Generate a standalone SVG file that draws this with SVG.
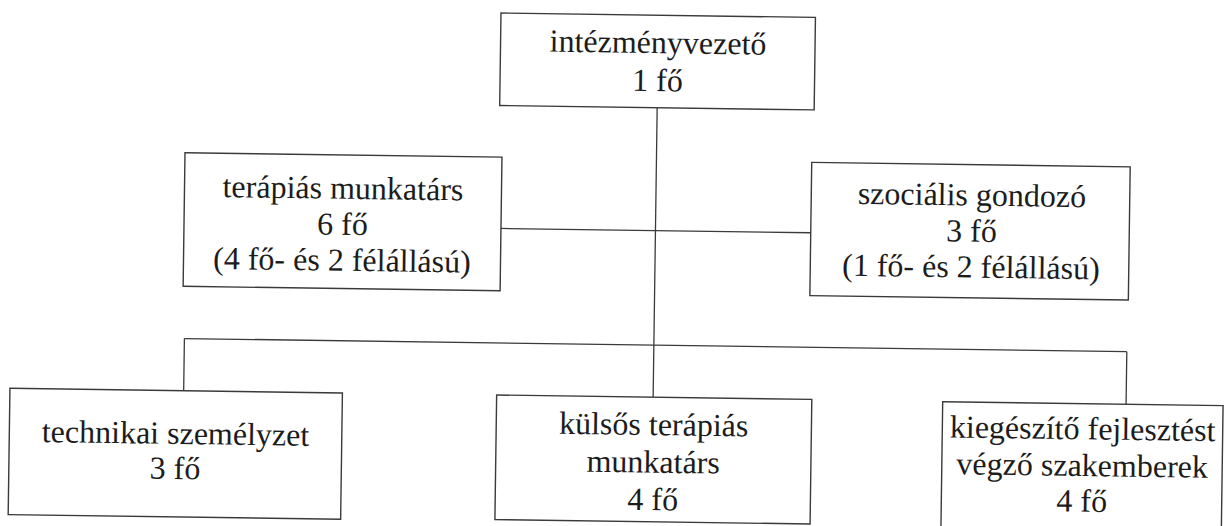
<svg xmlns="http://www.w3.org/2000/svg" width="1224" height="526" viewBox="0 0 1224 526">
  <style>
    .box { fill: #ffffff; stroke: #3a3a3a; stroke-width: 1.4; }
    .conn { fill: none; stroke: #3a3a3a; stroke-width: 1.3; }
    .lbl { font-family: "Times New Roman", Times, "Liberation Serif", "DejaVu Serif", serif; font-size: 32px; fill: #1c1c1c; text-anchor: middle; }
  </style>
  <rect x="0" y="0" width="1224" height="526" fill="#ffffff"/>
  <g transform="rotate(0.8 612 263)">
    <g id="connectors">
      <line class="conn" x1="655" y1="107" x2="655" y2="396.6"/>
      <line class="conn" x1="500.4" y1="230" x2="810.3" y2="230"/>
      <line class="conn" x1="185.5" y1="344.5" x2="1128" y2="344.5"/>
      <line class="conn" x1="185.5" y1="344.5" x2="185.5" y2="396.7"/>
      <line class="conn" x1="1128" y1="344.5" x2="1128" y2="397.1"/>
    </g>
    <g id="node-intezmenyvezeto">
      <rect class="box" x="497.5" y="14.6" width="314.5" height="92.5"/>
      <text class="lbl" x="655" y="52.5">intézményvezető</text>
      <text class="lbl" x="655" y="90.5">1 fő</text>
    </g>
    <g id="node-terapias-munkatars">
      <rect class="box" x="183.5" y="158.7" width="317" height="133.6"/>
      <text class="lbl" x="342" y="202.5">terápiás munkatárs</text>
      <text class="lbl" x="342" y="238.5">6 fő</text>
      <text class="lbl" x="342" y="274.5">(4 fő- és 2 félállású)</text>
    </g>
    <g id="node-szocialis-gondozo">
      <rect class="box" x="810.3" y="159.6" width="318.5" height="133.2"/>
      <text class="lbl" x="971" y="200.5">szociális gondozó</text>
      <text class="lbl" x="971" y="236.5">3 fő</text>
      <text class="lbl" x="971" y="272.5">(1 fő- és 2 félállású)</text>
    </g>
    <g id="node-technikai-szemelyzet">
      <rect class="box" x="11.75" y="396.7" width="332.5" height="126.3"/>
      <text class="lbl" x="178" y="450">technikai személyzet</text>
      <text class="lbl" x="178" y="485">3 fő</text>
    </g>
    <g id="node-kulsos-terapias-munkatars">
      <rect class="box" x="498.5" y="396.6" width="315.2" height="124.6"/>
      <text class="lbl" x="656" y="434.5">külsős terápiás</text>
      <text class="lbl" x="656" y="472">munkatárs</text>
      <text class="lbl" x="656" y="509.5">4 fő</text>
    </g>
    <g id="node-kiegeszito-fejlesztest">
      <rect class="box" x="944.6" y="397.1" width="280.4" height="132"/>
      <text class="lbl" x="1085" y="432.7">kiegészítő fejlesztést</text>
      <text class="lbl" x="1085" y="469.4">végző szakemberek</text>
      <text class="lbl" x="1085" y="505">4 fő</text>
    </g>
  </g>
</svg>
